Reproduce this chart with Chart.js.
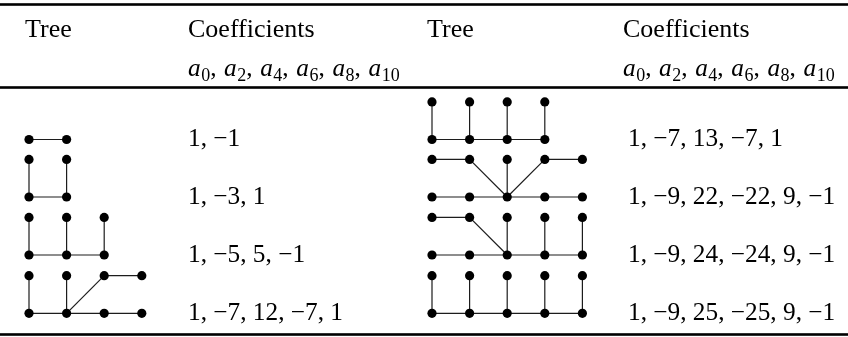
<!DOCTYPE html>
<html>
<head>
<meta charset="utf-8">
<script src="https://cdn.jsdelivr.net/npm/chart.js@4"></script>
<style>
html,body{margin:0;padding:0;background:#fff;}
#c{display:block;}
</style>
</head>
<body>
<canvas id="c" width="848" height="337"></canvas>
<script>
// ---- data ----
const headerLabels = ['Tree', 'Coefficients'];
const subscriptIndices = [0, 2, 4, 6, 8, 10];
const coefficients = [
  [1, -1],
  [1, -3, 1],
  [1, -5, 5, -1],
  [1, -7, 12, -7, 1],
  [1, -7, 13, -7, 1],
  [1, -9, 22, -22, 9, -1],
  [1, -9, 24, -24, 9, -1],
  [1, -9, 25, -25, 9, -1]
];
// tree nodes in grid units: [column, level] (level 0 = lower row, 1 = upper row)
const treeNodes = [
  [[0,0],[1,0]],
  [[0,1],[0,0],[1,0],[1,1]],
  [[0,0],[1,0],[2,0],[0,1],[1,1],[2,1]],
  [[0,0],[1,0],[2,0],[3,0],[0,1],[1,1],[2,1],[3,1]],
  [[0,0],[1,0],[2,0],[3,0],[0,1],[1,1],[2,1],[3,1]],
  [[0,0],[1,0],[2,0],[3,0],[4,0],[0,1],[1,1],[2,1],[3,1],[4,1]],
  [[0,0],[1,0],[2,0],[3,0],[4,0],[0,1],[1,1],[2,1],[3,1],[4,1]],
  [[0,0],[1,0],[2,0],[3,0],[4,0],[0,1],[1,1],[2,1],[3,1],[4,1]]
];
// edges as node index pairs
const treeEdges = [
  [[0,1]],
  [[0,1],[1,2],[2,3]],
  [[0,1],[1,2],[0,3],[1,4],[2,5]],
  [[0,1],[1,2],[2,3],[0,4],[1,5],[1,6],[6,7]],
  [[0,1],[1,2],[2,3],[0,4],[1,5],[2,6],[3,7]],
  [[0,1],[1,2],[2,3],[3,4],[5,6],[6,2],[7,2],[8,2],[8,9]],
  [[0,1],[1,2],[2,3],[3,4],[5,6],[6,2],[7,2],[8,3],[9,4]],
  [[0,1],[1,2],[2,3],[3,4],[5,0],[6,1],[7,2],[8,3],[9,4]]
];

// ---- layout (styles / positions) ----
const L = {
  treeX: [29, 432],
  rowY: [139.5, 197, 255, 313.3],
  unit: 37.6,
  headX: [25, 427],
  coefHeadX: [188, 623],
  coefX: [188, 628],
  textDy: 6.5,
  head1Y: 36.7,
  head2Y: 76,
  rules: [4.5, 87.5, 334.5],
  ruleW: 2.6,
  font: '"Liberation Serif", "Times New Roman", serif',
  headSize: 26,
  size: 25.3
};

function place(treeIdx, node) {
  const half = treeIdx < 4 ? 0 : 1;
  const row = treeIdx % 4;
  return { x: L.treeX[half] + node[0] * L.unit, y: L.rowY[row] - node[1] * L.unit };
}

const datasets = [];
treeEdges.forEach((edges, t) => {
  edges.forEach(([a, b]) => {
    datasets.push({
      type: 'line',
      data: [place(t, treeNodes[t][a]), place(t, treeNodes[t][b])],
      borderColor: '#1c1c1c',
      borderWidth: 1.2,
      pointRadius: 0,
      fill: false,
      tension: 0,
      order: 2
    });
  });
});
datasets.push({
  type: 'scatter',
  data: treeNodes.flatMap((nodes, t) => nodes.map(n => place(t, n))),
  backgroundColor: '#000',
  borderWidth: 0,
  pointRadius: 4.6,
  order: 1
});

function fmt(v) { return v < 0 ? '\u2212' + Math.abs(v) : String(v); }

const tablePlugin = {
  id: 'tableText',
  afterDraw(chart) {
    const ctx = chart.ctx;
    const xs = chart.scales.x, ys = chart.scales.y;
    const px = v => xs.getPixelForValue(v), py = v => ys.getPixelForValue(v);
    const head = L.headSize + 'px ' + L.font;
    const regular = L.size + 'px ' + L.font;
    ctx.save();
    ctx.fillStyle = '#000';
    L.rules.forEach(r => ctx.fillRect(px(0), py(r) - L.ruleW / 2, px(848) - px(0), L.ruleW));
    ctx.textBaseline = 'alphabetic';
    ctx.textAlign = 'left';
    for (let h = 0; h < 2; h++) {
      ctx.font = head;
      ctx.fillText(headerLabels[0], px(L.headX[h]), py(L.head1Y));
      ctx.fillText(headerLabels[1], px(L.coefHeadX[h]), py(L.head1Y));
      let x = px(L.coefHeadX[h]);
      subscriptIndices.forEach((k, i) => {
        ctx.font = 'italic ' + L.size + 'px ' + L.font;
        ctx.fillText('a', x, py(L.head2Y));
        x += ctx.measureText('a').width + 0.5;
        ctx.font = Math.round(L.size * 0.7) + 'px ' + L.font;
        ctx.fillText(String(k), x, py(L.head2Y) + 5);
        x += ctx.measureText(String(k)).width;
        if (i < subscriptIndices.length - 1) {
          ctx.font = regular;
          ctx.fillText(',', x, py(L.head2Y));
          x += ctx.measureText(', ').width + 1.3;
        }
      });
    }
    ctx.font = regular;
    coefficients.forEach((c, t) => {
      const half = t < 4 ? 0 : 1;
      const row = t % 4;
      ctx.fillText(c.map(fmt).join(', '), px(L.coefX[half]), py(L.rowY[row] + L.textDy));
    });
    ctx.restore();
  }
};

new Chart(document.getElementById('c'), {
  type: 'scatter',
  data: { datasets },
  options: {
    responsive: false,
    animation: false,
    devicePixelRatio: 1,
    layout: { padding: 0, autoPadding: false },
    plugins: { legend: { display: false }, tooltip: { enabled: false } },
    scales: {
      x: { type: 'linear', min: 0, max: 848, display: false },
      y: { type: 'linear', min: 0, max: 337, reverse: true, display: false }
    }
  },
  plugins: [tablePlugin]
});
</script>
</body>
</html>
